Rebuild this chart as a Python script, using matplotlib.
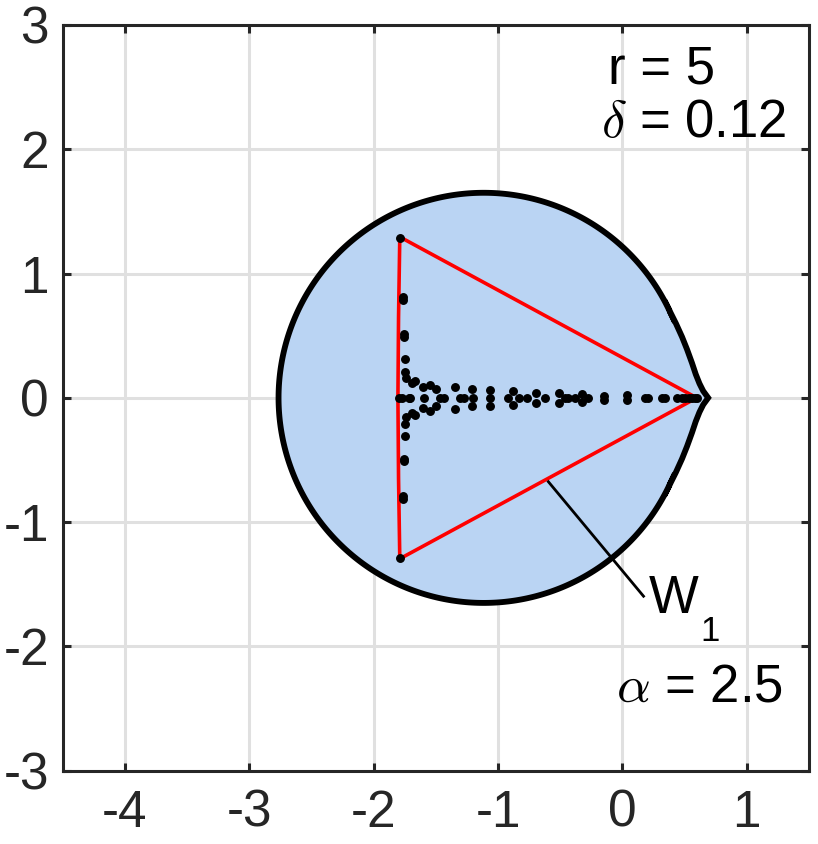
import numpy as np
import matplotlib
matplotlib.use("Agg")
import matplotlib.pyplot as plt
from matplotlib.patches import Polygon

plt.rcParams['font.family'] = ['Liberation Sans', 'DejaVu Sans']
plt.rcParams['mathtext.fontset'] = 'cm'

# ---------------- data ----------------
x_ticks = [-4, -3, -2, -1, 0, 1]
y_ticks = [-3, -2, -1, 0, 1, 2, 3]

circle_center = (-1.115, 0.0)
circle_radius = 1.65
cusp_x_upper = [0.38, 0.43, 0.48, 0.52, 0.56, 0.59, 0.62, 0.65, 0.69]
cusp_y_upper = [0.70, 0.60, 0.49, 0.39, 0.28, 0.19, 0.115, 0.055, 0.0]

# red triangle-like curve
tri_x = [0.598, -1.79, -1.80, -1.805, -1.80, -1.79, 0.598]
tri_y = [0.0, 1.295, 0.65, 0.0, -0.65, -1.295, 0.0]

# eigenvalue dots: on the real axis
axis_dots_x = [-1.798, -1.772, -1.718, -1.705, -1.592, -1.468, -1.436, -1.302, -1.275,
               -1.200, -1.061, -0.919, -0.833, -0.771, -0.621, -0.460, -0.434, -0.380,
               -0.275, 0.183, 0.210, 0.318, 0.344, 0.438, 0.479, 0.505, 0.532, 0.559,
               0.586, 0.599]
# complex-conjugate pairs (upper half values)
pair_dots_x = [-1.790, -1.768, -1.766, -1.757, -1.754, -1.748, -1.745, -1.738, -1.690,
               -1.671, -1.600, -1.551, -1.497, -1.350, -1.208, -1.061, -0.882, -0.696,
               -0.506, -0.326, -0.147, 0.036]
pair_dots_y = [1.290, 0.815, 0.790, 0.510, 0.490, 0.310, 0.210, 0.157, 0.120,
               0.137, 0.084, 0.103, 0.068, 0.089, 0.068, 0.063, 0.055, 0.043,
               0.040, 0.033, 0.015, 0.020]

# annotation
ann_line_x = [-0.595, 0.170]
ann_line_y = [-0.675, -1.596]

# ---------------- figure ----------------
W, H = 818, 844
fig = plt.figure(figsize=(W / 100, H / 100), dpi=100)
ax = fig.add_axes([62.8 / W, (H - 770.7) / H, (808.9 - 62.8) / W, (770.7 - 25) / H])

ax.set_xlim(-4.5, 1.5)
ax.set_ylim(-3, 3)
ax.set_xticks(x_ticks)
ax.set_yticks(y_ticks)
ax.set_xticklabels([str(v) for v in x_ticks])
ax.set_yticklabels([str(v) for v in y_ticks])
ax.grid(True, color='#e0e0e0', linewidth=2.2, zorder=0)
ax.set_axisbelow(True)

dark = '#262626'
for s in ax.spines.values():
    s.set_color(dark)
    s.set_linewidth(2.2)
    s.set_zorder(10)
ax.tick_params(direction='in', top=True, right=True, length=6, width=2.2,
               color=dark, labelcolor=dark, labelsize=37)
ax.tick_params(axis='x', pad=13)
ax.tick_params(axis='y', pad=10)

# boundary
cx, cy = circle_center
th0 = np.arccos((cusp_x_upper[0] - cx) / circle_radius)
th = np.linspace(th0, 2 * np.pi - th0, 400)
arc_x = cx + circle_radius * np.cos(th)
arc_y = cy + circle_radius * np.sin(th)
lower_x = list(cusp_x_upper)
lower_y = [-v for v in cusp_y_upper]
bx = np.concatenate([arc_x, lower_x, cusp_x_upper[::-1]])
by = np.concatenate([arc_y, lower_y, cusp_y_upper[::-1]])
poly = Polygon(np.column_stack([bx, by]), closed=True, facecolor='#bad4f3',
               edgecolor='black', linewidth=4.2, joinstyle='miter', zorder=2)
ax.add_patch(poly)

# red curve
ax.plot(tri_x, tri_y, color='#ff0000', linewidth=2.6, zorder=3)

# dots
dx = list(axis_dots_x) + list(pair_dots_x) + list(pair_dots_x)
dy = [0.0] * len(axis_dots_x) + list(pair_dots_y) + [-v for v in pair_dots_y]
ax.plot(dx, dy, linestyle='none', marker='o', markersize=5.4, color='black', zorder=4)

# annotation line + labels
ax.plot(ann_line_x, ann_line_y, color='black', linewidth=2.0, zorder=5)
ax.text(0.210, -1.733, 'W', fontsize=38, color='black', ha='left', va='baseline', zorder=6)
ax.text(0.63, -1.955, '1', fontsize=25, color='black', ha='left', va='baseline', zorder=6)

ax.text(-0.115, 2.533, 'r = 5', fontsize=38, color='black', ha='left', va='baseline')
ax.text(-0.17, 2.098, r'$\delta$ = 0.12', fontsize=38, color='black', ha='left', va='baseline')
ax.text(1.29, -2.447, r'$\alpha$ = 2.5', fontsize=38, color='black', ha='right', va='baseline')

fig.savefig('out.png', dpi=100)
